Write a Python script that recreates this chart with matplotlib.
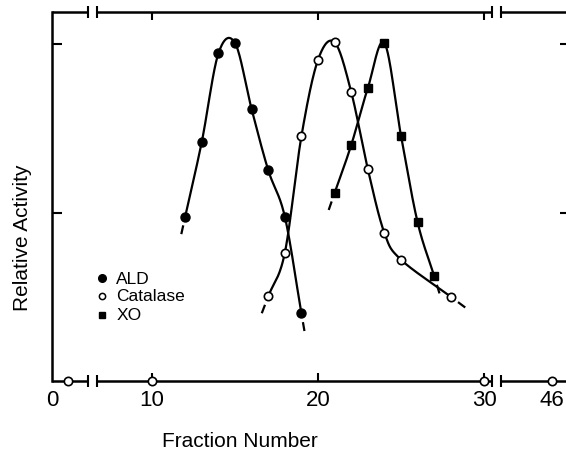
import numpy as np
import matplotlib
matplotlib.use('Agg')
import matplotlib.pyplot as plt

plt.rcParams['font.family'] = ['Liberation Sans', 'DejaVu Sans']

# fraction numbers and relative activities
ald_x = [12, 13, 14, 15, 16, 17, 18, 19]
ald_y = [0.488, 0.710, 0.972, 1.003, 0.807, 0.626, 0.488, 0.201]

cat_x = [17, 18, 19, 20, 21, 22, 23, 24, 25, 28]
cat_y = [0.251, 0.380, 0.726, 0.953, 1.005, 0.858, 0.629, 0.439, 0.360, 0.250]

xo_x = [21, 22, 23, 24, 25, 26, 27]
xo_y = [0.558, 0.700, 0.869, 1.003, 0.728, 0.471, 0.311]

# catalase fractions with no activity (on the baseline)
cat0_x = [1, 10, 30, 46]
cat0_y = [0, 0, 0, 0]

xticks = [0, 10, 20, 30, 46]
xtick_labels = ['0', '10', '20', '30', '46']
yticks = [0.5, 1.0]

legend_labels = ['ALD', 'Catalase', 'XO']

# broken x axis: fraction -> position (piecewise linear)
FR = np.array([0, 1, 10, 30, 46, 60])
POS = np.array([52, 68, 152, 484, 552, 611.5])
BREAKS = [(3.1, 4.1), (31.9, 34.0)]


def fwd(f):
    return np.interp(f, FR, POS)


def inv(p):
    return np.interp(p, POS, FR)


def smooth(xs, ys, n=30):
    '''Catmull-Rom curve through the points, for the drawn line'''
    x = np.asarray(xs, float)
    y = np.asarray(ys, float)
    px = np.r_[2*x[0]-x[1], x, 2*x[-1]-x[-2]]
    py = np.r_[2*y[0]-y[1], y, 2*y[-1]-y[-2]]
    t = np.linspace(0, 1, n)
    outx, outy = [], []
    for i in range(1, len(px)-2):
        for p, out in ((px, outx), (py, outy)):
            p0, p1, p2, p3 = p[i-1], p[i], p[i+1], p[i+2]
            out.extend(0.5*(2*p1 + (-p0+p2)*t + (2*p0-5*p1+4*p2-p3)*t**2
                            + (-p0+3*p1-3*p2+p3)*t**3))
    return np.array(outx), np.array(outy)


def stub(ax, xs, ys, start, gap=9, length=9):
    '''short dash continuing the curve past its end point'''
    pts = ax.transData.transform(np.column_stack([xs, ys]))
    a, b = (pts[0], pts[1]) if start else (pts[-1], pts[-2])
    d = (a - b) / np.hypot(*(a - b))
    seg = np.array([a + d*gap, a + d*(gap + length)])
    seg = ax.transData.inverted().transform(seg)
    ax.plot(seg[:, 0], seg[:, 1], color='k', lw=1.6, solid_capstyle='butt')


fig = plt.figure(figsize=(5.66, 4.56), dpi=100)
ax = fig.add_axes([52/566, 74/456, (570-52)/566, 369/456])
ax.set_xscale('function', functions=(fwd, inv))
ax.set_xlim(0, inv(570))
ax.set_ylim(0, 1.095)

for s in ('top', 'bottom'):
    ax.spines[s].set_visible(False)
for s in ('left', 'right'):
    ax.spines[s].set_linewidth(1.8)

# broken top and bottom axis lines
xmax = ax.get_xlim()[1]
segs = [(0, BREAKS[0][0]), (BREAKS[0][1], BREAKS[1][0]), (BREAKS[1][1], xmax)]
for yy in (0, 1):
    for x0, x1 in segs:
        ax.plot([x0, x1], [yy, yy], color='k', lw=1.8, clip_on=False,
                transform=ax.get_xaxis_transform(), solid_capstyle='butt')
    ends = [BREAKS[0][0], BREAKS[0][1], BREAKS[1][0], BREAKS[1][1]]
    ax.plot(ends, [yy]*4, ls='none', marker='|', ms=9, mew=1.5, color='k',
            clip_on=False, transform=ax.get_xaxis_transform())

ax.set_xticks(xticks)
ax.set_xticklabels(xtick_labels)
ax.xaxis.set_minor_locator(plt.NullLocator())
ax.tick_params(axis='x', direction='in', length=6, width=1.5, top=True,
               labelsize=16, pad=6)
for i in (0, 4):
    t = ax.xaxis.get_major_ticks()[i]
    t.tick1line.set_visible(False)
    t.tick2line.set_visible(False)

ax.set_yticks(yticks)
ax.set_yticklabels([])
ax.yaxis.set_minor_locator(plt.NullLocator())
ax.tick_params(axis='y', direction='in', length=7, width=1.5, right=True)

# curves
for xs, ys in ((ald_x, ald_y), (cat_x, cat_y), (xo_x, xo_y)):
    sx, sy = smooth(xs, ys)
    ax.plot(sx, sy, color='k', lw=1.6)
    stub(ax, xs, ys, True)
    stub(ax, xs, ys, False)

ax.plot(ald_x, ald_y, 'o', color='k', ms=6.5, zorder=3)
ax.plot(cat_x, cat_y, 'o', mfc='white', mec='k', mew=1.2, ms=6, zorder=3)
ax.plot(xo_x, xo_y, 's', color='k', ms=5.5, zorder=3)
ax.plot(cat0_x, cat0_y, 'o', mfc='white', mec='k', mew=1.2, ms=6,
        zorder=4, clip_on=False)

# legend
styles = [dict(marker='o', color='k', ms=5.5),
          dict(marker='o', mfc='white', mec='k', mew=1.1, ms=4.5),
          dict(marker='s', color='k', ms=5)]
rows = [0.279, 0.231, 0.179]
for lab, st, yy in zip(legend_labels, styles, rows):
    ax.plot([0.0965], [yy], ls='none', transform=ax.transAxes, **st)
    ax.text(0.124, yy, lab, transform=ax.transAxes, fontsize=12.5,
            va='center', ha='left')

ax.set_xlabel('Fraction Number', fontsize=15)
ax.xaxis.set_label_coords(0.363, -0.135)
ax.set_ylabel('Relative Activity', fontsize=15)
ax.yaxis.set_label_coords(-0.039, 0.39)

fig.savefig('out.png', dpi=100)
